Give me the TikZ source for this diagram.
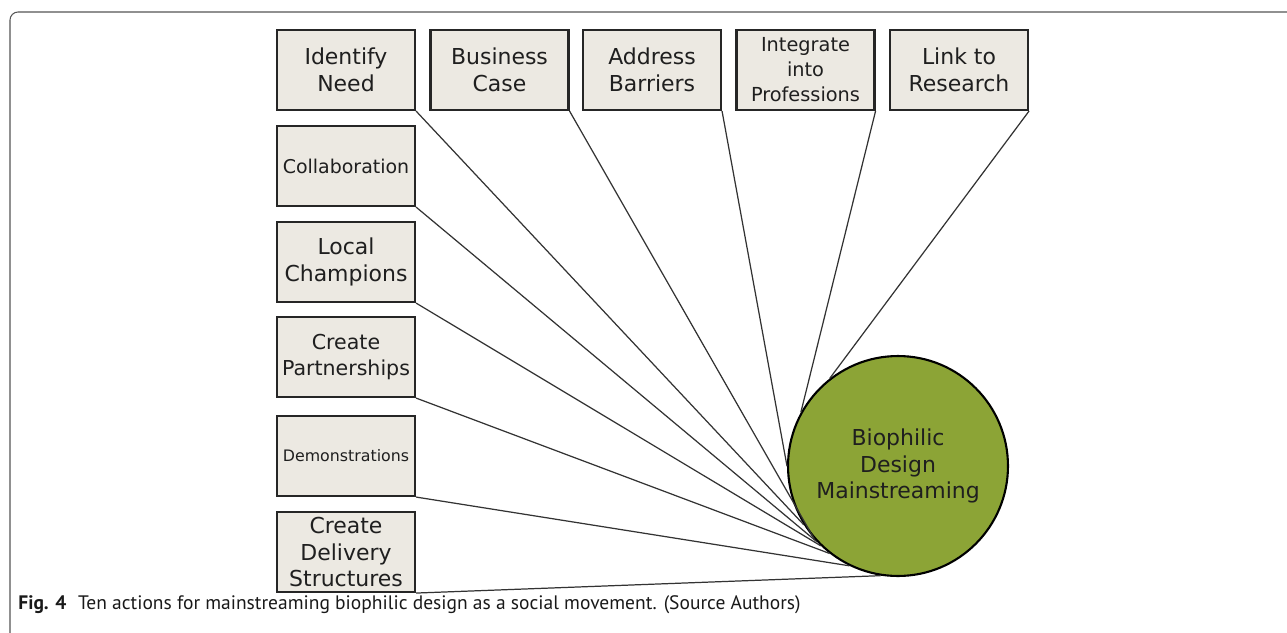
\documentclass[tikz,border=0pt]{standalone}
\usepackage{fontspec}
\setmainfont{DejaVu Sans}
\newfontfamily\capfont{PT Sans}
\definecolor{boxfill}{HTML}{ECE9E2}
\definecolor{biogreen}{HTML}{8CA436}
\definecolor{framegray}{HTML}{555555}
\tikzset{
  action/.style={draw=black!85, line width=1.2pt, fill=boxfill, minimum width=2.76cm, minimum height=1.6cm,
    inner sep=1pt, align=center, text=black!88, font=\fontsize{12.5}{15.3}\selectfont},
  link/.style={draw=black!80, line width=0.7pt},
  hub/.style={circle, draw=black, line width=1.2pt, fill=biogreen, minimum size=4.4cm, inner sep=0pt,
    align=center, text=black!88, font=\fontsize{12.5}{15.3}\selectfont}
}
\begin{document}
\begin{tikzpicture}[x=0.02cm, y=-0.02cm]
                        \useasboundingbox (0,0) rectangle (1287,632);
                        \draw[framegray, line width=0.6pt, rounded corners=1.6mm] (10,640) -- (10,12) -- (1295,12);
                        \node[action] (idn) at (346,70) {Identify\\Need};
                        \node[action] (bus) at (499.5,70) {Business\\Case};
                        \node[action] (bar) at (652,70) {Address\\Barriers};
                        \node[action, font=\fontsize{11}{14.2}\selectfont] (pro) at (805.5,70) {Integrate\\into\\Professions};
                        \node[action] (res) at (959,70) {Link to\\Research};
                        \node[action, font=\fontsize{10.8}{13}\selectfont] (col) at (346,166) {Collaboration};
                        \node[action] (loc) at (346,262) {Local\\Champions};
                        \node[action, font=\fontsize{11.7}{15}\selectfont] (par) at (346,357) {Create\\Partnerships};
                        \node[action, font=\fontsize{9}{11}\selectfont] (dem) at (346,456) {Demonstrations};
                        \node[action] (del) at (346,552) {Create\\Delivery\\Structures};
                        \node[hub] (bio) at (898,466) {Biophilic\\Design\\Mainstreaming};
                        \foreach \n/\a in {res/128, pro/151, bar/180, idn/212, bus/221, col/223, loc/226, par/232, dem/244, del/261}
                            \draw[link] (\n.south east) to (bio.\a);
                        \node[anchor=base west, inner sep=0pt, text=black!90, font=\capfont\fontsize{11.1}{13}\selectfont] (cap) at (18,609)
                            {\textbf{Fig. 4}\hspace{0.6em}Ten actions for mainstreaming biophilic design as a social movement. (Source Authors)};
\end{tikzpicture}
\end{document}
